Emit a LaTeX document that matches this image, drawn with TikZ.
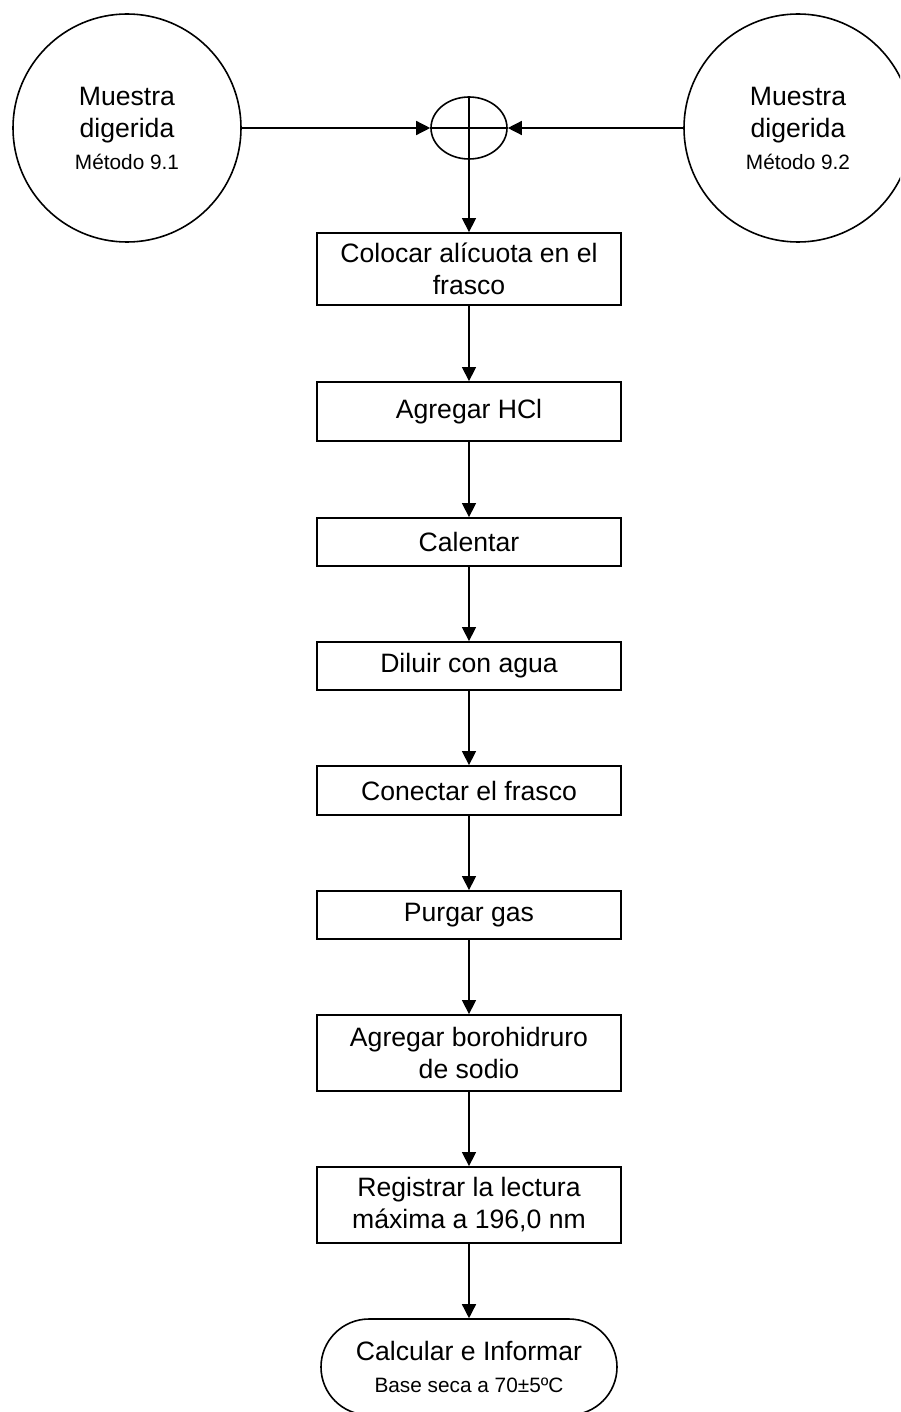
\documentclass[tikz,border=0pt]{standalone}
\usepackage{fontspec}
\setmainfont{Liberation Sans}
\usetikzlibrary{arrows.meta,shapes,positioning}

\begin{document}
\begin{tikzpicture}[x=0.5pt,y=-0.5pt,>={Triangle[length=7pt,width=7pt]},
  paso/.style={draw,line width=0.9pt,rectangle,minimum width=152pt,align=center,inner sep=2pt,font=\fontsize{13.3}{16}\selectfont},
  fuente/.style={draw,line width=0.8pt,circle,minimum size=114pt,align=center,inner sep=0pt,font=\fontsize{13.3}{16}\selectfont},
  fin/.style={draw,line width=0.8pt,rounded rectangle,minimum width=152pt,minimum height=48pt,align=center,inner sep=2pt,font=\fontsize{13.3}{16}\selectfont}]
  \useasboundingbox (0,0) rectangle (900,1412);
  \clip (0,0) rectangle (900,1412);
  \node[fuente] (m1) at (127,128) {Muestra\\digerida\\{\fontsize{10.4}{12}\selectfont Método 9.1}};
  \node[fuente] (m2) at (798,128) {Muestra\\digerida\\{\fontsize{10.4}{12}\selectfont Método 9.2}};
  \node[draw,line width=0.8pt,ellipse,minimum width=38pt,minimum height=31pt,inner sep=0pt] (suma) at (469,128) {};

  \node[paso,minimum height=36pt] (p1) at (469,269) {Colocar alícuota en el\\frasco};
  \node[paso,minimum height=29.5pt] (p2) at (469,411.5) {Agregar HCl};
  \node[paso,minimum height=24pt] (p3) at (469,542) {Calentar};
  \node[paso,minimum height=24pt] (p4) at (469,666) {Diluir con agua};
  \node[paso,minimum height=24.5pt] (p5) at (469,790.5) {Conectar el frasco};
  \node[paso,minimum height=24pt] (p6) at (469,915) {Purgar gas};
  \node[paso,minimum height=38pt] (p7) at (469,1053) {Agregar borohidruro\\de sodio};
  \node[paso,minimum height=38pt] (p8) at (469,1205) {Registrar la lectura\\máxima a 196,0 nm};
  \node[fin] (p9) at (469,1367) {Calcular e Informar\\{\fontsize{10.4}{12}\selectfont Base seca a 70±5ºC}};

  \draw[line width=0.7pt] (suma.north) -- (suma.south);
  \draw[line width=0.7pt] (suma.west) -- (suma.east);
  \draw[->,line width=0.7pt] (m1) -- (suma);
  \draw[->,line width=0.7pt] (m2) -- (suma);
  \draw[->,line width=0.7pt] (suma) -- (p1);
  \foreach \a/\b in {p1/p2,p2/p3,p3/p4,p4/p5,p5/p6,p6/p7,p7/p8,p8/p9}
    \draw[->,line width=0.7pt] (\a) -- (\b);
\end{tikzpicture}
\end{document}
